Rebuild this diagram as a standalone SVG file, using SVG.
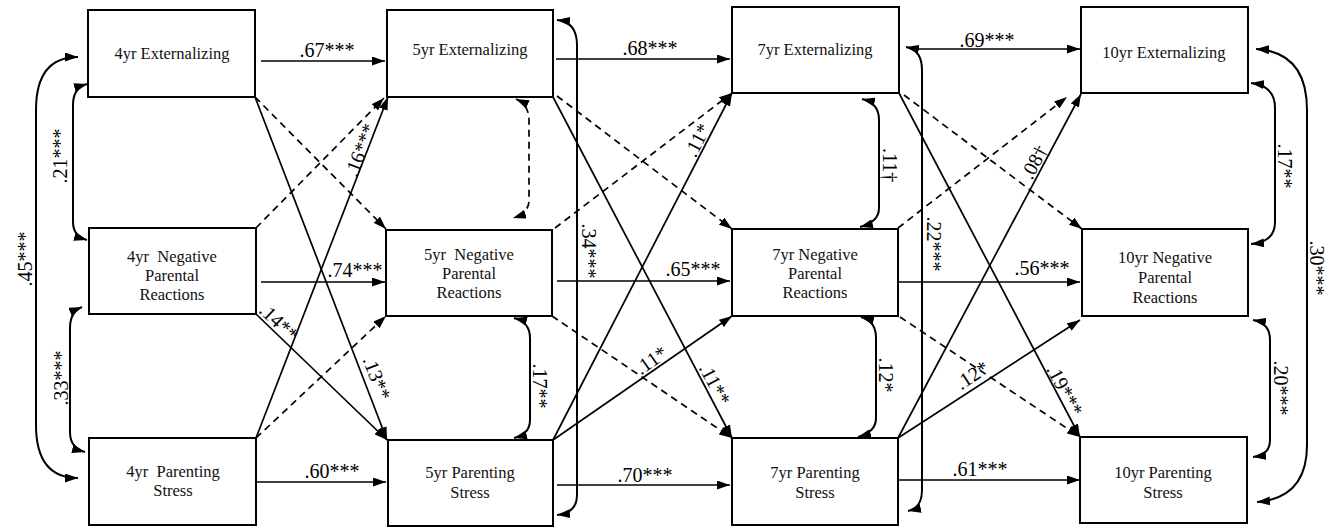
<svg xmlns="http://www.w3.org/2000/svg" width="1341" height="527" viewBox="0 0 1341 527" font-family="'Liberation Serif', 'Times New Roman', serif">
<defs>
<marker id="ah" viewBox="0 0 13 9" refX="13" refY="4.5" markerWidth="13" markerHeight="9" markerUnits="userSpaceOnUse" orient="auto-start-reverse">
<path d="M0,0 L13,4.5 L0,9 z" fill="#000"/>
</marker>
<style>
.box{fill:#fff;stroke:#000;stroke-width:2}
.bt{font-family:'Liberation Serif','Times New Roman',serif;font-size:16.5px;text-anchor:middle;fill:#111;white-space:pre}
.c{fill:none;stroke:#000;stroke-width:1.7;marker-end:url(#ah)}
.d{fill:none;stroke:#000;stroke-width:1.7;stroke-dasharray:7 5;marker-end:url(#ah)}
.cv{fill:none;stroke:#000;stroke-width:2;marker-start:url(#ah);marker-end:url(#ah)}
.cvd{fill:none;stroke:#000;stroke-width:1.7;stroke-dasharray:7 5;marker-start:url(#ah);marker-end:url(#ah)}
.lb{font-family:'Liberation Serif','Times New Roman',serif;font-size:20px;text-anchor:middle;fill:#000}
</style>
</defs>
<rect width="1341" height="527" fill="#fff"/>

<g id="connectors">
<line class="c" x1="261" y1="61" x2="385" y2="61"/>
<line class="c" x1="261" y1="282" x2="385" y2="282"/>
<line class="c" x1="251" y1="482" x2="386" y2="482"/>
<line class="c" x1="556" y1="59" x2="730" y2="59"/>
<line class="c" x1="557" y1="281" x2="730" y2="281"/>
<line class="c" x1="557" y1="485" x2="730" y2="485"/>
<line class="c" x1="910" y1="49" x2="1080" y2="49"/>
<line class="c" x1="898" y1="282" x2="1080" y2="282"/>
<line class="c" x1="897" y1="480" x2="1080" y2="480"/>
<line class="c" x1="255" y1="97" x2="387" y2="440"/>
<line class="d" x1="255" y1="97" x2="386" y2="229"/>
<line class="d" x1="256" y1="228" x2="384" y2="98"/>
<line class="c" x1="256" y1="314" x2="387" y2="440"/>
<line class="c" x1="256" y1="438" x2="388" y2="97"/>
<line class="d" x1="256" y1="438" x2="386" y2="316"/>
<line class="c" x1="553" y1="97" x2="732" y2="438"/>
<line class="d" x1="557" y1="96" x2="732" y2="229"/>
<line class="d" x1="555" y1="228" x2="732" y2="93"/>
<line class="c" x1="553" y1="440" x2="732" y2="93"/>
<line class="c" x1="553" y1="440" x2="732" y2="316"/>
<line class="d" x1="552" y1="316" x2="732" y2="438"/>
<line class="c" x1="899" y1="93" x2="1080" y2="437"/>
<line class="d" x1="904" y1="95" x2="1082" y2="229"/>
<line class="d" x1="898" y1="228" x2="1067" y2="97"/>
<line class="c" x1="898" y1="438" x2="1081" y2="94"/>
<line class="c" x1="898" y1="438" x2="1080" y2="320"/>
<line class="d" x1="900" y1="317" x2="1080" y2="437"/>
<path class="cv" d="M78,57 Q36,57 36,110 L36,425 Q36,478 78,478"/>
<path class="cv" d="M87,84 Q73,88 73,105 L73,222 Q73,236 87,240"/>
<path class="cv" d="M82,307 Q70,312 70,328 L70,432 Q70,448 85,452"/>
<path class="cvd" d="M516,99 Q529,105 529,120 L529,200 Q529,213 513,218"/>
<path class="cv" d="M514,318 Q530,322 530,338 L530,420 Q530,434 514,438"/>
<path class="cv" d="M557,20 Q577,22 577,45 L577,495 Q577,513 557,515"/>
<path class="cv" d="M862,99 Q879,103 879,120 L879,208 Q879,222 860,227"/>
<path class="cv" d="M861,317 Q876,321 876,338 L876,418 Q876,432 858,437"/>
<path class="cv" d="M906,47 Q922,50 922,70 L922,490 Q922,508 908,511"/>
<path class="cv" d="M1251,83 Q1275,86 1275,108 L1275,222 Q1275,242 1251,244"/>
<path class="cv" d="M1253,320 Q1270,323 1270,340 L1270,440 Q1270,455 1253,457"/>
<path class="cv" d="M1256,49 Q1307,52 1307,110 L1307,445 Q1307,498 1257,502"/>
<text class="lb" x="327" y="57">.67***</text>
<text class="lb" x="355" y="277">.74***</text>
<text class="lb" x="332" y="478">.60***</text>
<text class="lb" x="650" y="55">.68***</text>
<text class="lb" x="693" y="276">.65***</text>
<text class="lb" x="645" y="482">.70***</text>
<text class="lb" x="987" y="47">.69***</text>
<text class="lb" x="1042" y="275">.56***</text>
<text class="lb" x="980" y="476">.61***</text>
<text class="lb" transform="translate(32,259) rotate(-90)">.45***</text>
<text class="lb" transform="translate(67,156) rotate(-90)">.21***</text>
<text class="lb" transform="translate(68,378) rotate(-90)">.33***</text>
<text class="lb" transform="translate(582,251) rotate(90)">.34***</text>
<text class="lb" transform="translate(533,386) rotate(90)">.17**</text>
<text class="lb" transform="translate(927,244) rotate(90)">.22***</text>
<text class="lb" transform="translate(883,165) rotate(90)">.11†</text>
<text class="lb" transform="translate(879,375) rotate(90)">.12*</text>
<text class="lb" transform="translate(1278,166) rotate(90)">.17**</text>
<text class="lb" transform="translate(1274,388) rotate(90)">.20***</text>
<text class="lb" transform="translate(1310,268) rotate(90)">.30***</text>
<text class="lb" transform="translate(360,150) rotate(-69)" y="7">.16***</text>
<text class="lb" transform="translate(377,378) rotate(69)" y="7">.13**</text>
<text class="lb" transform="translate(279,322) rotate(44)" y="7">.14**</text>
<text class="lb" transform="translate(697,140) rotate(-63)" y="7">.11*</text>
<text class="lb" transform="translate(651,360) rotate(-35)" y="7">.11*</text>
<text class="lb" transform="translate(715,384) rotate(62)" y="7">.11**</text>
<text class="lb" transform="translate(1034,162) rotate(-62)" y="7">.08†</text>
<text class="lb" transform="translate(972,375) rotate(-33)" y="7">.12*</text>
<text class="lb" transform="translate(1065,390) rotate(62)" y="7">.19***</text>
</g>

<g id="n4ext"><rect class="box" x="88" y="10" width="167" height="87"/><text class="bt" x="172" y="59">4yr Externalizing</text></g>
<g id="n4npr"><rect class="box" x="89" y="228" width="167" height="86"/><text class="bt" x="172" y="262">4yr  Negative</text><text class="bt" x="172" y="281">Parental</text><text class="bt" x="172" y="300">Reactions</text></g>
<g id="n4ps"><rect class="box" x="89" y="438" width="167" height="87"/><text class="bt" x="173" y="477">4yr  Parenting</text><text class="bt" x="173" y="496">Stress</text></g>

<g id="n5ext"><rect class="box" x="387" y="10" width="166" height="87"/><text class="bt" x="470" y="55">5yr Externalizing</text></g>
<g id="n5npr"><rect class="box" x="386" y="230" width="166" height="86"/><text class="bt" x="469" y="260">5yr  Negative</text><text class="bt" x="469" y="279">Parental</text><text class="bt" x="469" y="298">Reactions</text></g>
<g id="n5ps"><rect class="box" x="388" y="440" width="165" height="86"/><text class="bt" x="470" y="478">5yr Parenting</text><text class="bt" x="470" y="498">Stress</text></g>

<g id="n7ext"><rect class="box" x="732" y="7" width="167" height="86"/><text class="bt" x="815" y="55">7yr Externalizing</text></g>
<g id="n7npr"><rect class="box" x="732" y="229" width="166" height="87"/><text class="bt" x="815" y="260">7yr Negative</text><text class="bt" x="815" y="279">Parental</text><text class="bt" x="815" y="298">Reactions</text></g>
<g id="n7ps"><rect class="box" x="732" y="438" width="166" height="87"/><text class="bt" x="815" y="478">7yr Parenting</text><text class="bt" x="815" y="498">Stress</text></g>

<g id="n10ext"><rect class="box" x="1081" y="7" width="167" height="86"/><text class="bt" x="1164" y="58">10yr Externalizing</text></g>
<g id="n10npr"><rect class="box" x="1082" y="229" width="166" height="87"/><text class="bt" x="1165" y="263">10yr Negative</text><text class="bt" x="1165" y="283">Parental</text><text class="bt" x="1165" y="303">Reactions</text></g>
<g id="n10ps"><rect class="box" x="1080" y="437" width="167" height="86"/><text class="bt" x="1163" y="478">10yr Parenting</text><text class="bt" x="1163" y="498">Stress</text></g>
</svg>
